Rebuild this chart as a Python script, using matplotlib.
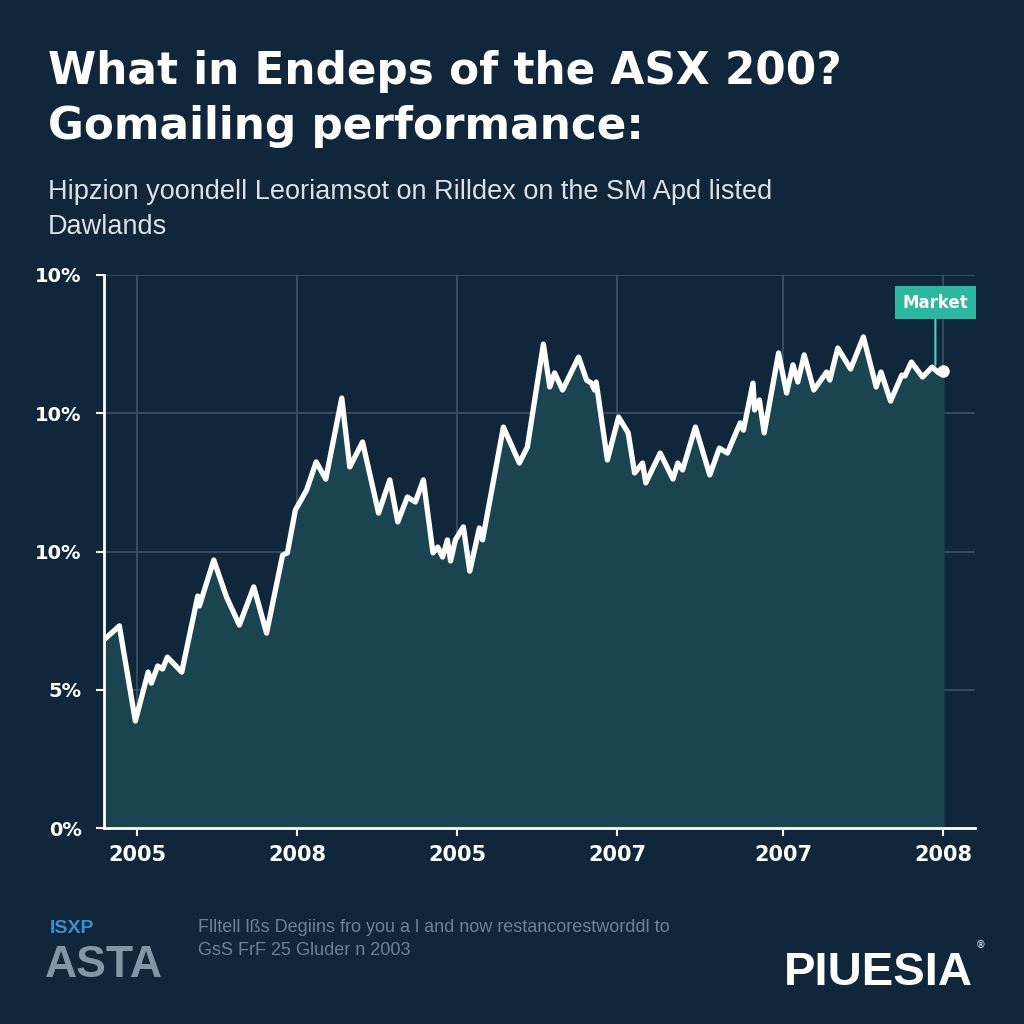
import matplotlib
matplotlib.use("Agg")
from matplotlib import pyplot as plt
import numpy as np

# chart data (x in tick-spacing units, y in percent)
x_vals = [-0.20, -0.11, -0.01, 0.07, 0.09, 0.13, 0.16, 0.19, 0.28, 0.38,
          0.39, 0.48, 0.56, 0.64, 0.73, 0.81, 0.91, 0.94, 0.99, 1.06,
          1.12, 1.18, 1.28, 1.33, 1.41, 1.51, 1.58, 1.63, 1.69, 1.74,
          1.79, 1.85, 1.88, 1.91, 1.94, 1.96, 1.99, 2.04, 2.08, 2.14,
          2.16, 2.29, 2.39, 2.44, 2.54, 2.58, 2.61, 2.66, 2.76, 2.81,
          2.84, 2.86, 2.87, 2.94, 3.01, 3.07, 3.11, 3.16, 3.18, 3.27,
          3.35, 3.38, 3.41, 3.49, 3.58, 3.64, 3.69, 3.77, 3.79, 3.85,
          3.86, 3.89, 3.92, 4.01, 4.06, 4.10, 4.13, 4.17, 4.23, 4.31,
          4.33, 4.38, 4.46, 4.54, 4.62, 4.65, 4.71, 4.78, 4.80, 4.84,
          4.91, 4.97, 5.01, 5.04]
y_vals = [6.84, 7.31, 3.87, 5.64, 5.24, 5.86, 5.75, 6.18, 5.64, 8.39,
          8.03, 9.69, 8.35, 7.34, 8.72, 7.05, 9.87, 9.95, 11.50, 12.22,
          13.24, 12.62, 15.55, 13.06, 13.96, 11.39, 12.59, 11.07, 11.97, 11.79,
          12.59, 9.95, 10.16, 9.80, 10.42, 9.66, 10.42, 10.89, 9.29, 10.85,
          10.42, 14.50, 13.20, 13.78, 17.50, 15.95, 16.46, 15.84, 17.03, 16.20,
          16.09, 15.84, 16.13, 13.31, 14.86, 14.29, 12.84, 13.20, 12.48, 13.56,
          12.62, 13.20, 12.95, 14.50, 12.77, 13.74, 13.56, 14.65, 14.39, 16.09,
          15.12, 15.48, 14.29, 17.18, 15.73, 16.75, 16.13, 17.11, 15.84, 16.49,
          16.20, 17.36, 16.60, 17.76, 15.95, 16.49, 15.44, 16.38, 16.35, 16.85,
          16.31, 16.67, 16.46, 16.53]

x_ticks = [0, 1, 2, 3, 4.04, 5.04]
x_labels = ["2005", "2008", "2005", "2007", "2007", "2008"]
y_ticks = [0, 5, 10, 15, 20]
y_labels = ["0%", "5%", "10%", "10%", "10%"]

bg = "#10263a"
fill_c = "#1a4550"
grid_c = "#3a5467"

fig = plt.figure(figsize=(10.24, 10.24), dpi=100, facecolor=bg)
ax = fig.add_axes([104 / 1024, 196 / 1024, 871 / 1024, 553 / 1024])
ax.set_facecolor(bg)

ax.fill_between(x_vals, y_vals, 0, color=fill_c, zorder=1)
ax.plot(x_vals, y_vals, color="white", lw=3.8, solid_joinstyle="round",
        solid_capstyle="round", zorder=3)
ax.plot(x_vals[-1], y_vals[-1], "o", color="white", ms=8, zorder=4)

ax.set_xlim(-0.206, 5.2375)
ax.set_ylim(0, 20)
ax.set_xticks(x_ticks)
ax.set_xticklabels(x_labels)
ax.set_yticks(y_ticks)
ax.set_yticklabels(y_labels)
ax.grid(True, color=grid_c, lw=1.2, zorder=0)
ax.set_axisbelow(True)

for s in ["top", "right"]:
    ax.spines[s].set_visible(False)
for s in ["left", "bottom"]:
    ax.spines[s].set_color("white")
    ax.spines[s].set_linewidth(2)
    ax.spines[s].set_zorder(5)

ax.tick_params(axis="y", colors="white", length=6, width=1.5, pad=10)
ax.tick_params(axis="x", colors="white", length=6, width=1.5, pad=6)
for lab in ax.get_yticklabels():
    lab.set_fontweight("bold")
    lab.set_fontsize(14)
for lab in ax.get_xticklabels():
    lab.set_fontweight("bold")
    lab.set_fontsize(15)

# market annotation
ax.annotate("Market", xy=(4.99, 16.75), xytext=(4.99, 19.0),
            ha="center", va="center", color="white", fontsize=12,
            fontweight="bold",
            bbox=dict(boxstyle="square,pad=0.45", fc="#2bb89f", ec="none"),
            arrowprops=dict(arrowstyle="-", color="#4fd1c5", lw=1.5,
                            shrinkA=0, shrinkB=0, relpos=(0.5, 0)),
            zorder=6)

# titles
fig.text(48 / 1024, 1 - 84 / 1024, "What in Endeps of the ASX 200?",
         color="white", fontsize=31.5, fontweight="bold", family="DejaVu Sans",
         va="baseline")
fig.text(48 / 1024, 1 - 139 / 1024, "Gomailing performance:",
         color="white", fontsize=31.5, fontweight="bold", family="DejaVu Sans",
         va="baseline")
fig.text(48 / 1024, 1 - 199 / 1024,
         "Hipzion yoondell Leoriamsot on Rilldex on the SM Apd listed",
         color="#dce2e7", fontsize=19.5, family="Liberation Sans", va="baseline")
fig.text(48 / 1024, 1 - 234 / 1024, "Dawlands",
         color="#dce2e7", fontsize=19.5, family="Liberation Sans", va="baseline")

# footer
fig.text(50 / 1024, 1 - 933 / 1024, "ISXP", color="#3b8fd0", fontsize=14,
         fontweight="bold", family="Liberation Sans", va="baseline")
fig.text(45 / 1024, 1 - 977 / 1024, "ASTA", color="#7f98a7", fontsize=32,
         fontweight="bold", family="Liberation Sans", va="baseline")
fig.text(198 / 1024, 1 - 932 / 1024,
         "Flltell lßs Degiins fro you a l and now restancorestworddl to",
         color="#6b8394", fontsize=13, family="Liberation Sans", va="baseline")
fig.text(198 / 1024, 1 - 955 / 1024, "GsS FrF 25 Gluder n 2003",
         color="#6b8394", fontsize=13, family="Liberation Sans", va="baseline")
fig.text(784 / 1024, 1 - 985 / 1024, "PIUESIA", color="white", fontsize=34,
         fontweight="bold", family="Liberation Sans", va="baseline")
fig.text(976 / 1024, 1 - 948 / 1024, "®", color="white", fontsize=7,
         family="DejaVu Sans", va="baseline")

fig.savefig("out.png", dpi=100, facecolor=bg)
